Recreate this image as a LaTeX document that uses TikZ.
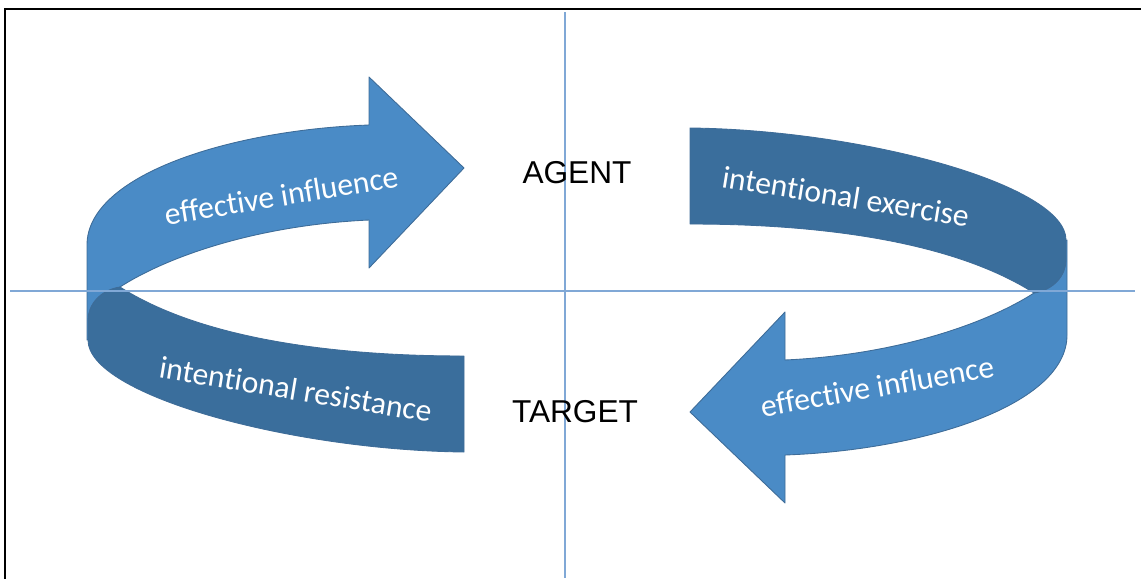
\documentclass[tikz,border=0pt]{standalone}
\usepackage{fontspec}
\setmainfont{Liberation Sans}
\newfontfamily\calib[Ligatures=NoCommon]{Carlito}
\usetikzlibrary{positioning}
\definecolor{lightarrow}{RGB}{74,139,198}
\definecolor{darkband}{RGB}{58,110,156}
\definecolor{bandline}{RGB}{62,108,152}
\definecolor{axisblue}{RGB}{128,168,214}

\begin{document}
\begin{tikzpicture}[x=0.02cm, y=-0.02cm,
		arrowshape/.style={fill=lightarrow, draw=bandline, line width=0.5pt, line join=round},
		bandshape/.style={fill=darkband, draw=bandline, line width=0.5pt, line join=round},
		axisline/.style={draw=axisblue, line width=0.85pt},
		bandtext/.style={text=white, font=\calib\fontsize{18}{20}\selectfont, anchor=base, inner sep=0pt},
		roletext/.style={font=\fontsize{18}{20}\selectfont, anchor=base, inner sep=0pt}]
		\useasboundingbox (0,0) rectangle (1141,578);
		\clip (0,0) rectangle (1141,578);

		% Frame
		\draw[line width=1.1pt] (5,9) rectangle (1170,610);

		% Ribbon: left half, then the same turned round the centre
		\foreach \ang in {0,180} {
			\begin{scope}[rotate around={\ang:(577,290)}]
				\path[arrowshape] (369,220) -- (369,268) -- (464,168) -- (369,77) -- (369,125)
					.. controls (230,130) and (87,175) .. (87,245) -- (87,340) -- (140,330) -- (120,287)
					.. controls (170,255) and (260,225) .. (369,220) -- cycle;
				\path[bandshape] (464,356) .. controls (330,356) and (200,338) .. (120,287)
					.. controls (100,290) and (88,305) .. (88,320) -- (88,340)
					.. controls (88,395) and (290,450) .. (464,452) -- cycle;
			\end{scope}
		}

		% Axes
		\draw[axisline] (565,12) -- (565,578);
		\draw[axisline] (10,291) -- (1135,291);

		% Ribbon labels
		\node[bandtext, rotate=9.3] (inflTop) at (283,206) {effective influence};
		\node[bandtext, rotate=-9.2] (exercise) at (844,207) {intentional exercise};
		\node[bandtext, rotate=-9.4] (resist) at (294,400) {intentional resistance};
		\node[bandtext, rotate=9.8] (inflBot) at (879,397) {effective influence};

		% Roles
		\node[roletext] (agent) at (577,183) {AGENT};
		\node[roletext] (target) at (575,422) {TARGET};
	\end{tikzpicture}
\end{document}
